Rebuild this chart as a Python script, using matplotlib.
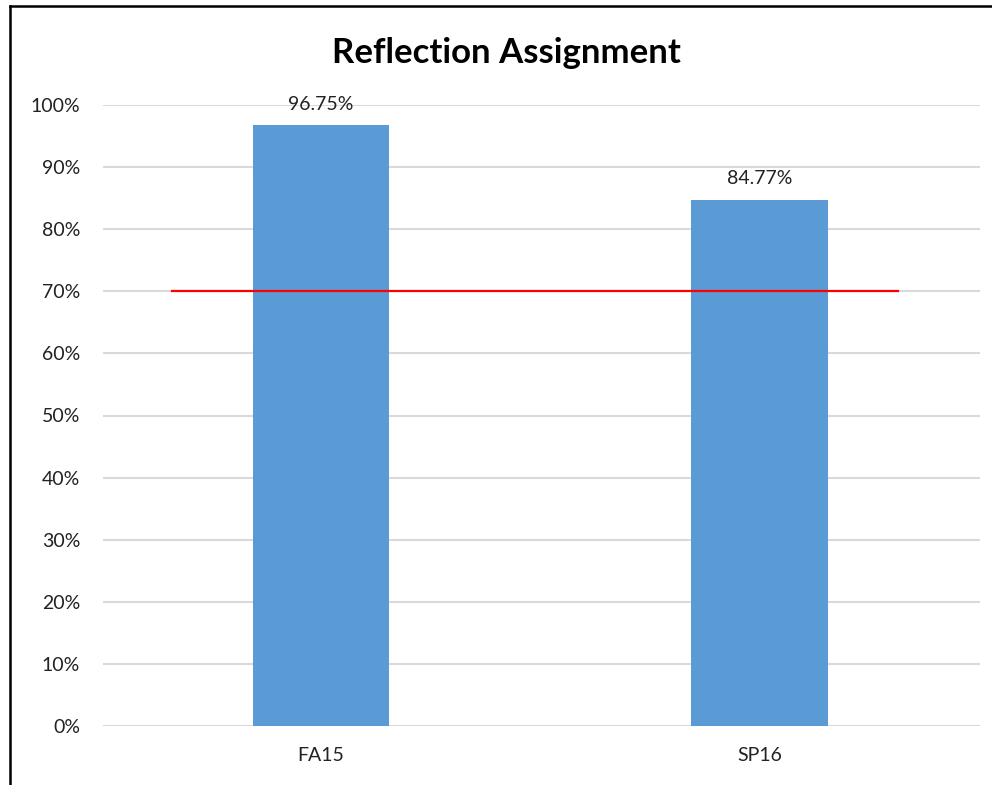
import matplotlib
matplotlib.use("Agg")
import matplotlib.pyplot as plt
from matplotlib.lines import Line2D
from matplotlib.ticker import PercentFormatter

# data
terms = ["FA15", "SP16"]
scores = [0.9675, 0.8477]
target = 0.70
target_x = [-0.34, 1.315]

plt.rcParams['font.family'] = ['Lato', 'DejaVu Sans']

fig = plt.figure(figsize=(9.92, 7.85), dpi=100)
ax = fig.add_axes([103 / 992, 1 - 726 / 785, (980 - 103) / 992, (726 - 105) / 785])

x = range(len(terms))
bars = ax.bar(x, scores, width=0.312, color="#5B9BD5", zorder=2)
ax.plot(target_x, [target, target], color="red", lw=1.6, zorder=3)

for xi, v in zip(x, scores):
    ax.text(xi, v + 0.02, f"{v * 100:.2f}%", ha="center", va="bottom",
            fontsize=14, color="#222222")

ax.set_xlim(-0.497, 1.503)
ax.set_ylim(0, 1)
ax.set_yticks([i / 10 for i in range(11)])
ax.yaxis.set_major_formatter(PercentFormatter(1.0, decimals=0))
ax.set_xticks(list(x))
ax.set_xticklabels(terms)
ax.tick_params(axis="both", length=0, labelsize=14, colors="#222222")
ax.tick_params(axis="y", pad=16.5)
ax.tick_params(axis="x", pad=15)
ax.grid(axis="y", color="#D9D9D9", lw=1.5, zorder=0)
for s in ax.spines.values():
    s.set_visible(False)

fig.text(506 / 992, 1 - 53 / 785, "Reflection Assignment", ha="center", va="center",
         fontsize=25, fontweight="bold")

# outer border (left and top only visible)
fig.add_artist(Line2D([9.5 / 992, 9.5 / 992], [0, 1 - 5.5 / 785], transform=fig.transFigure,
                      color="black", lw=1.8))
fig.add_artist(Line2D([9.5 / 992, 1], [1 - 5.5 / 785, 1 - 5.5 / 785], transform=fig.transFigure,
                      color="black", lw=1.8))

fig.savefig("out.png", dpi=100)
